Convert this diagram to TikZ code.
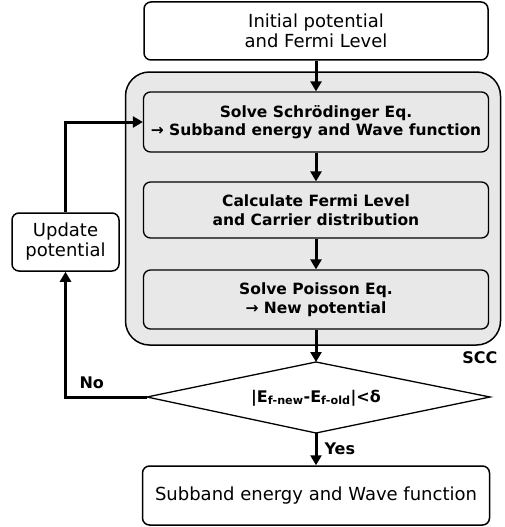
\documentclass[tikz,border=0pt]{standalone}
\usepackage{fontspec}
\setmainfont{DejaVu Sans}
\usetikzlibrary{arrows.meta}

\begin{document}
\begin{tikzpicture}[x=1pt,y=-1pt,
   box/.style={draw,rounded corners=7pt,align=center,inner sep=0pt,
      font=\fontsize{18}{20}\selectfont},
   whitebox/.style={box,fill=white,line width=1.5pt},
   graybox/.style={box,fill=black!9,line width=1.3pt,
      font=\fontsize{15.5}{18.5}\selectfont\bfseries},
   flow/.style={line width=3pt,-{Triangle[length=10pt,width=11pt]}},
   tag/.style={font=\fontsize{16}{18}\selectfont\bfseries}
]
   \useasboundingbox (0,0) rectangle (505,527);

   \node[box,fill=black!9,line width=1.5pt,rounded corners=24pt,
      minimum width=375pt,minimum height=273pt] (scc) at (313,208.5) {};
   \node[tag,anchor=south east] (scclabel) at (501,367) {SCC};

   \node[whitebox,minimum width=344pt,minimum height=58pt] (init) at (316,31)
      {Initial potential\\and Fermi Level};
   \node[graybox,minimum width=345pt,minimum height=60pt] (schr) at (316,122)
      {Solve Schrödinger Eq.\\→ Subband energy and Wave function};
   \node[graybox,minimum width=345pt,minimum height=56pt] (calc) at (316,210)
      {Calculate Fermi Level\\and Carrier distribution};
   \node[graybox,minimum width=345pt,minimum height=59pt] (pois) at (316,299.5)
      {Solve Poisson Eq.\\→ New potential};

   % decision diamond
   \coordinate (dtop) at (316,362);
   \coordinate (dleft) at (147,397);
   \coordinate (dright) at (490,397);
   \coordinate (dbot) at (316,433);
   \draw[line width=1.3pt,fill=white] (dtop) -- (dright) -- (dbot) -- (dleft) -- cycle;
   \node[font=\fontsize{16}{18}\selectfont\bfseries] (dec) at (316,398)
      {|E\textsubscript{f-new}-E\textsubscript{f-old}|<δ};

   \node[whitebox,minimum width=347pt,minimum height=59pt] (final) at (316,495.5)
      {Subband energy and Wave function};
   \node[whitebox,minimum width=107pt,minimum height=58pt] (upd) at (65.5,242)
      {Update\\potential};

   \foreach \a/\b in {init/schr,schr/calc,calc/pois} {
      \draw[flow] (\a.south) -- (\b.north);
   }
   \draw[flow] (pois.south) -- (dtop);
   \draw[flow] (dbot) -- (final.north);
   \draw[flow] (dleft) -| (upd.south);
   \draw[flow] (upd.north) |- (schr.west);

   \node[tag,anchor=south west] (no) at (76,392) {No};
   \node[tag,anchor=west] (yes) at (321,449) {Yes};
\end{tikzpicture}
\end{document}
